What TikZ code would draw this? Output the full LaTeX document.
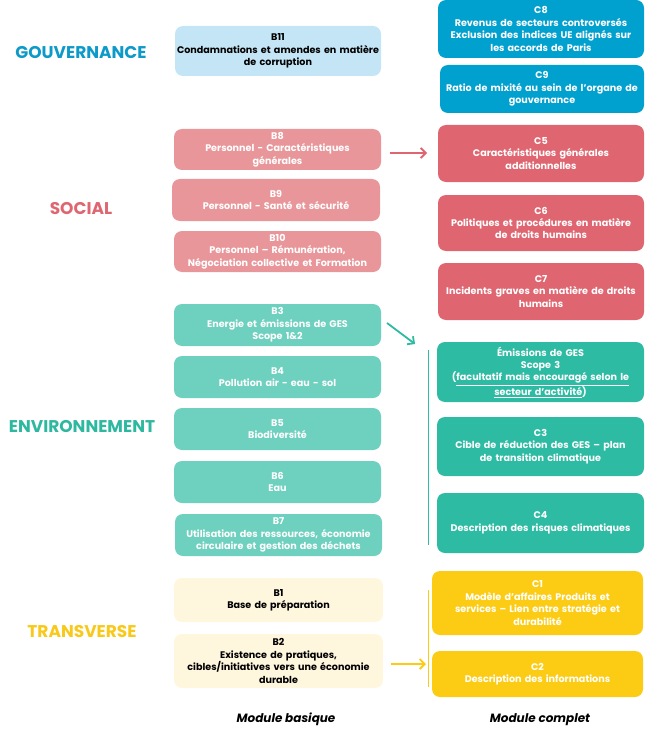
\documentclass[tikz,border=0pt]{standalone}
\usepackage{fontspec}
\setmainfont{Poppins}
\usetikzlibrary{arrows.meta}
\definecolor{gblue}{HTML}{0E9AC9}
\definecolor{gbluedark}{HTML}{00A0CF}
\definecolor{gbluelight}{HTML}{C3E5F5}
\definecolor{sred}{HTML}{DF6670}
\definecolor{sredlight}{HTML}{E8969A}
\definecolor{eteal}{HTML}{2EBBA3}
\definecolor{etealtxt}{HTML}{2EB8A0}
\definecolor{etealight}{HTML}{6ED0BE}
\definecolor{tyellow}{HTML}{FCCC14}
\definecolor{tyellowtxt}{HTML}{F8C91A}
\definecolor{tyellowlight}{HTML}{FFF6DE}
\tikzset{
  bx/.style={rounded corners=8pt, inner sep=1pt, align=center, text=white,
    font=\fontsize{9.6}{12.4}\selectfont\bfseries},
  cat/.style={font=\fontsize{17}{20}\selectfont\bfseries},
  mod/.style={font=\fontsize{12}{14}\selectfont\bfseries\itshape, text=black},
  arr/.style={line width=1.8pt, -{Straight Barb[length=5pt,width=10pt,line width=1.8pt]}},
  vline/.style={line width=0.9pt},
}
% #1 name, #2 cx, #3 cy, #4 w, #5 h, #6 fill, #7 text colour, #8 text
\newcommand{\bbox}[8]{%
  \node[bx, fill=#6, text=#7, minimum width=#4pt, minimum height=#5pt, text width=#4pt-2pt] (#1) at (#2,#3) {#8};}
\begin{document}
\begin{tikzpicture}[x=1pt,y=-1pt]
\useasboundingbox (0,0) rectangle (645,730);
% categories
\node[cat, text=gblue] (gouv) at (81,53) {GOUVERNANCE};
\node[cat, text=sred] (soc) at (81,209) {SOCIAL};
\node[cat, text=etealtxt] (env) at (82,427) {ENVIRONNEMENT};
\node[cat, text=tyellowtxt] (trans) at (82,632) {TRANSVERSE};
% gouvernance
\bbox{B11}{278}{51}{206}{50}{gbluelight}{black}{B11\\Condamnations et amendes en matière\\de corruption}
\bbox{C8}{541}{29}{206}{58}{gbluedark}{white}{C8\\Revenus de secteurs controversés\\Exclusion des indices UE alignés sur\\les accords de Paris}
\bbox{C9}{542}{89}{204}{48}{gbluedark}{white}{C9\\Ratio de mixité au sein de l'organe de\\gouvernance}
% social
\bbox{B8}{277.5}{149.5}{207}{41}{sredlight}{white}{B8\\Personnel - Caractéristiques\\générales}
\bbox{B9}{276}{200}{208}{42}{sredlight}{white}{B9\\Personnel - Santé et sécurité}
\bbox{B10}{277.5}{251.5}{207}{41}{sredlight}{white}{B10\\Personnel – Rémunération,\\Négociation collective et Formation}
\bbox{C5}{541}{153.5}{206}{57}{sred}{white}{C5\\Caractéristiques générales\\additionnelles}
\bbox{C6}{541}{223}{206}{56}{sred}{white}{C6\\Politiques et procédures en matière\\de droits humains}
\bbox{C7}{541}{291.5}{206}{57}{sred}{white}{C7\\Incidents graves en matière de droits\\humains}
% environnement
\bbox{B3}{277.5}{325}{207}{42}{etealight}{white}{B3\\Energie et émissions de GES\\Scope 1\&2}
\bbox{B4}{277.5}{377}{207}{42}{etealight}{white}{B4\\Pollution air - eau - sol}
\bbox{B5}{277.5}{429}{207}{42}{etealight}{white}{B5\\Biodiversité}
\bbox{B6}{277.5}{482}{207}{42}{etealight}{white}{B6\\Eau}
\bbox{B7}{278.5}{535}{207}{42}{etealight}{white}{B7\\Utilisation des ressources, économie\\circulaire et gestion des déchets}
\bbox{EM}{540.5}{372}{207}{60}{eteal}{white}{Émissions de GES\\Scope 3\\(\underline{facultatif mais encouragé selon le}\\\underline{secteur d'activité})}
\bbox{C3}{540.5}{446.5}{207}{59}{eteal}{white}{C3\\Cible de réduction des GES – plan\\de transition climatique}
\bbox{C4}{540.5}{523}{207}{60}{eteal}{white}{C4\\Description des risques climatiques}
% transverse
\bbox{B1}{278.5}{600}{209}{44}{tyellowlight}{black}{B1\\Base de préparation}
\bbox{B2}{278.5}{661}{209}{54}{tyellowlight}{black}{B2\\Existence de pratiques,\\cibles/initiatives vers une économie\\durable}
\bbox{C1}{537.5}{603}{211}{64}{tyellow}{white}{C1\\Modèle d'affaires Produits et\\services – Lien entre stratégie et\\durabilité}
\bbox{C2}{537.5}{674}{211}{46}{tyellow}{white}{C2\\Description des informations}
% arrows
\coordinate (a1s) at (390,153);
\coordinate (a1e) at (427,153);
\draw[arr, draw=sred] (a1s) -- (a1e);
\coordinate (a2s) at (387,323);
\coordinate (a2e) at (415,344);
\draw[arr, draw=eteal] (a2s) -- (a2e);
\coordinate (a3s) at (391,664);
\coordinate (a3e) at (426,664);
\draw[arr, draw=tyellow] (a3s) -- (a3e);
% vertical lines
\coordinate (v1t) at (428,350);
\coordinate (v1b) at (428,545);
\draw[vline, draw=eteal] (v1t) -- (v1b);
\coordinate (v2t) at (428,590);
\coordinate (v2b) at (428,687);
\draw[vline, draw=tyellow] (v2t) -- (v2b);
% module labels
\node[mod] (mb) at (286,719) {Module basique};
\node[mod] (mc) at (540,720) {Module complet};
\end{tikzpicture}
\end{document}
